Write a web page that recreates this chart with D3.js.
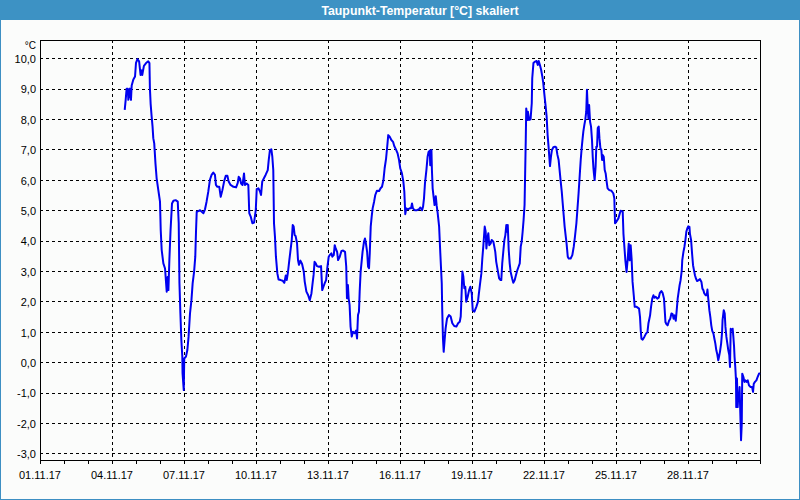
<!DOCTYPE html>
<html><head><meta charset="utf-8">
<script src="https://cdn.jsdelivr.net/npm/d3@7"></script>
<style>html,body{margin:0;padding:0;background:#fff;}svg{display:block;}</style>
</head><body>
<script>
const title = "Taupunkt-Temperatur [°C] skaliert";
const unitLabel = "°C";
const startDate = new Date(2017, 10, 1);
const endDate = new Date(2017, 11, 1);
// day offsets (days since 01.11.17 00:00)
const dayOffsets = [
3.53,3.57,3.61,3.66,3.68,3.75,3.79,3.82,3.89,3.96,4.0,4.06,4.13,4.19,4.24,4.26,4.33,4.42,4.51,4.56,4.58,4.61,4.65,4.69,4.72,4.76,4.81,4.86,4.93,5.0,
5.03,5.07,5.14,5.21,5.28,5.32,5.35,5.39,5.44,5.5,5.56,5.65,5.74,5.78,5.81,5.85,5.89,5.93,5.94,5.99,6.01,6.08,6.14,6.19,6.25,6.31,6.36,6.42,6.47,6.5,
6.53,6.6,6.67,6.74,6.81,6.875,6.94,7.01,7.08,7.15,7.22,7.29,7.33,7.39,7.47,7.53,7.6,7.67,7.74,7.81,7.86,7.94,8.06,8.17,8.24,8.28,8.33,8.38,8.44,8.5,
8.54,8.61,8.68,8.72,8.78,8.85,8.92,8.99,9.03,9.1,9.17,9.21,9.26,9.33,9.4,9.49,9.53,9.58,9.64,9.68,9.72,9.75,9.79,9.83,9.89,9.94,10.03,10.11,10.18,10.24,
10.28,10.33,10.38,10.43,10.49,10.53,10.57,10.61,10.65,10.71,10.75,10.79,10.85,10.92,10.99,11.03,11.1,11.17,11.24,11.31,11.35,11.4,11.44,11.49,11.54,11.62,11.71,11.76,11.81,11.86,
11.92,11.97,12.03,12.07,12.14,12.18,12.24,12.28,12.32,12.38,12.42,12.49,12.56,12.63,12.71,12.76,12.79,12.83,12.86,12.9,12.94,12.99,13.04,13.11,13.17,13.21,13.25,13.29,13.32,13.36,
13.4,13.44,13.5,13.54,13.58,13.63,13.67,13.71,13.74,13.78,13.82,13.86,13.92,13.97,14.04,14.13,14.19,14.25,14.31,14.36,14.42,14.46,14.51,14.57,14.64,14.71,14.76,14.83,14.9,14.96,
15.01,15.08,15.14,15.18,15.22,15.26,15.33,15.4,15.46,15.5,15.54,15.61,15.71,15.79,15.85,15.92,15.96,16.0,16.04,16.1,16.15,16.19,16.24,16.26,16.31,16.33,16.36,16.4,16.44,16.49,
16.53,16.57,16.63,16.68,16.74,16.76,16.79,16.82,16.86,16.9,16.96,17.04,17.11,17.18,17.26,17.35,17.42,17.49,17.53,17.56,17.6,17.64,17.68,17.72,17.76,17.82,17.88,17.93,17.99,18.03,
18.1,18.18,18.25,18.28,18.33,18.39,18.43,18.47,18.5,18.53,18.57,18.6,18.64,18.68,18.72,18.78,18.82,18.89,18.93,18.97,19.01,19.07,19.13,19.19,19.22,19.26,19.31,19.35,19.39,19.43,
19.46,19.49,19.53,19.57,19.61,19.67,19.72,19.78,19.83,19.89,19.94,19.99,20.03,20.07,20.11,20.15,20.19,20.24,20.26,20.31,20.33,20.38,20.44,20.49,20.51,20.56,20.63,20.69,20.74,20.78,
20.83,20.88,20.93,20.97,21.01,21.07,21.11,21.15,21.19,21.22,21.25,21.29,21.33,21.39,21.46,21.51,21.56,21.61,21.65,21.69,21.74,21.78,21.82,21.86,21.9,21.94,21.99,22.03,22.11,22.18,
22.24,22.29,22.35,22.39,22.44,22.49,22.53,22.57,22.61,22.64,22.68,22.72,22.76,22.79,22.82,22.85,22.88,22.92,22.96,23.0,23.03,23.06,23.08,23.11,23.15,23.18,23.21,23.24,23.28,23.31,
23.35,23.39,23.42,23.44,23.49,23.53,23.57,23.61,23.65,23.72,23.81,23.89,23.93,23.96,24.0,24.1,24.19,24.28,24.31,24.35,24.39,24.44,24.49,24.53,24.57,24.61,24.65,24.69,24.74,24.78,
24.86,24.96,25.0,25.03,25.06,25.11,25.18,25.25,25.31,25.35,25.42,25.46,25.51,25.56,25.6,25.65,25.72,25.78,25.83,25.89,25.94,26.0,26.03,26.06,26.1,26.15,26.21,26.26,26.31,26.36,
26.4,26.44,26.49,26.53,26.57,26.61,26.65,26.69,26.74,26.76,26.81,26.85,26.89,26.93,26.97,27.01,27.06,27.08,27.13,27.17,27.21,27.25,27.29,27.33,27.38,27.43,27.5,27.56,27.6,27.64,
27.68,27.74,27.78,27.81,27.85,27.89,27.93,27.97,28.01,28.06,28.1,28.14,28.18,28.22,28.26,28.29,28.33,28.38,28.42,28.44,28.49,28.53,28.56,28.6,28.64,28.68,28.72,28.75,28.78,28.82,
28.86,28.89,28.92,28.94,28.97,29.0,29.01,29.04,29.07,29.1,29.12,29.15,29.18,29.21,29.24,29.26,29.31,29.35,29.39,29.44,29.49,29.54,29.61,29.67,29.71,29.74,29.79,29.85,29.9,29.96,
30.0
];
// dew point values in °C
const dewPoints = [
8.3,8.63,9.0,9.0,8.63,9.0,8.63,9.1,9.3,9.4,9.85,9.97,9.9,9.45,9.6,9.45,9.75,9.84,9.9,9.84,9.0,8.5,8.1,7.75,7.37,7.2,6.55,6.05,5.66,5.28,
4.35,3.69,3.25,3.08,2.32,2.8,2.37,3.36,4.35,5.22,5.31,5.33,5.28,4.57,2.6,1.6,0.72,0.18,-0.37,-0.92,0.12,0.18,0.4,0.83,1.6,2.04,2.59,2.97,3.47,4.29,
4.95,4.97,5.0,4.95,4.9,5.03,5.28,5.6,6.0,6.16,6.24,6.16,5.83,5.77,5.77,5.44,5.66,5.94,6.13,6.13,5.94,5.83,5.77,5.75,5.9,6.1,6.05,5.88,5.83,6.21,
5.83,5.88,5.83,4.9,4.79,4.57,4.59,5.0,5.69,5.72,5.61,5.5,5.94,6.05,6.16,6.32,6.65,6.98,7.0,6.76,6.32,4.57,4.13,3.47,2.92,2.72,2.7,2.68,2.61,2.85,
2.7,2.95,3.3,3.63,4.02,4.51,4.46,4.18,4.15,3.91,3.36,3.2,3.34,3.23,2.98,2.65,2.32,2.21,2.04,2.26,2.54,2.87,3.3,3.25,3.16,3.14,3.16,2.37,2.48,2.59,
2.7,3.09,3.47,3.52,3.58,3.47,3.52,3.85,3.74,3.63,3.36,3.47,3.66,3.67,3.63,3.14,2.1,2.54,2.1,1.88,1.17,0.84,1.0,0.95,1.04,0.78,1.55,1.66,2.32,2.98,
3.3,3.63,3.96,4.07,3.91,3.63,3.14,3.09,3.58,4.46,4.79,5.06,5.28,5.5,5.64,5.63,5.72,5.77,5.99,6.38,6.7,7.03,7.47,7.42,7.31,7.25,7.11,7.0,6.87,6.65,
6.38,6.21,5.94,5.61,4.87,5.06,5.03,5.06,5.06,5.22,5.06,5.0,5.0,5.03,5.09,5.0,5.11,5.39,5.88,6.32,6.76,6.92,6.96,6.48,6.98,6.32,5.72,5.44,5.17,5.46,
5.14,4.9,4.46,3.58,2.59,1.71,0.78,0.34,0.73,1.11,1.44,1.55,1.5,1.28,1.19,1.17,1.28,1.33,1.5,2.1,2.98,2.81,2.43,2.48,1.99,2.15,2.37,2.48,2.26,1.71,
1.66,1.82,1.99,2.21,2.54,2.92,3.41,3.8,4.13,4.46,4.29,3.74,4.07,4.24,3.85,3.91,4.02,3.96,3.8,3.63,3.3,3.03,2.76,2.7,2.7,3.25,3.69,4.02,4.18,4.51,
4.29,4.51,3.69,3.25,2.97,2.76,2.61,2.7,2.86,3.03,3.14,3.25,3.8,3.96,4.29,4.68,5.17,7.31,8.35,7.97,8.24,7.97,7.99,8.52,9.34,9.84,9.89,9.91,9.78,9.91,
9.78,9.62,9.4,9.18,8.85,8.41,8.08,7.48,7.09,6.76,6.45,6.76,6.98,7.07,7.09,7.07,6.82,6.65,6.32,5.99,5.61,5.22,4.84,4.46,4.18,3.91,3.47,3.41,3.41,3.52,
3.8,4.13,4.57,5.0,5.55,6.16,6.65,7.04,7.37,7.59,7.8,7.97,8.24,8.96,8.41,8.02,8.46,7.91,7.75,7.31,6.76,6.38,6.21,5.99,6.43,7.09,7.09,7.7,7.75,7.37,
7.04,6.98,6.65,6.82,6.76,6.32,6.21,5.94,5.72,5.66,5.64,5.55,5.39,4.57,4.6,4.73,4.98,4.95,4.23,3.79,3.35,2.97,3.41,3.9,3.35,3.85,3.41,2.64,2.2,1.82,
1.82,1.76,1.49,1.05,0.77,0.74,0.83,0.94,0.99,1.27,1.54,1.82,2.09,2.2,2.12,2.15,2.09,2.12,2.28,2.34,2.28,2.09,1.71,1.32,1.25,1.21,1.36,1.43,1.6,1.58,
1.43,1.54,1.36,1.71,2.09,2.31,2.53,2.69,3.02,3.35,3.63,3.79,4.01,4.29,4.4,4.47,4.45,4.23,4.01,3.57,3.19,3.02,2.86,2.75,2.67,2.69,2.73,2.64,2.42,2.37,
2.26,2.2,2.2,2.39,2.04,1.71,1.49,1.21,1.03,0.94,0.77,0.61,0.39,0.26,0.06,0.17,0.33,0.61,0.99,1.38,1.71,1.6,1.16,0.83,0.61,0.39,0.23,-0.16,1.1,1.05,
1.1,0.83,0.5,0.17,-0.16,-0.6,-1.48,-0.54,-1.48,-1.04,-1.26,-0.82,-1.7,-2.57,-2.03,-0.38,-0.49,-0.65,-0.6,-0.65,-0.6,-0.76,-0.82,-0.82,-0.98,-0.71,-0.65,-0.6,-0.49,-0.38,
-0.36
];
const yTickValues = [10,9,8,7,6,5,4,3,2,1,0,-1,-2,-3];
const yTickLabels = ["10,0","9,0","8,0","7,0","6,0","5,0","4,0","3,0","2,0","1,0","0,0","-1,0","-2,0","-3,0"];
const xLabelDays = [0,3,6,9,12,15,18,21,24,27];
const xTickLabels = ["01.11.17","04.11.17","07.11.17","10.11.17","13.11.17","16.11.17","19.11.17","22.11.17","25.11.17","28.11.17"];

const W = 800, H = 500;
const L = 40, R = 760, T = 40, B = 460;
const dayMs = 864e5;
const toDate = d => new Date(startDate.getTime() + d * dayMs);

const svg = d3.select("body").append("svg").attr("width", W).attr("height", H);
svg.append("rect").attr("x",0).attr("y",0).attr("width",W).attr("height",H).attr("fill","#fbfcfb");
svg.append("rect").attr("x",0.5).attr("y",0.5).attr("width",W-1).attr("height",H-1)
  .attr("fill","none").attr("stroke","#3d8fc3").attr("stroke-width",1);
svg.append("rect").attr("x",0).attr("y",0).attr("width",W).attr("height",20).attr("fill","#3d92c4");
svg.append("text").attr("x",420).attr("y",14.5).attr("text-anchor","middle")
  .attr("font-family","'Liberation Sans', Arial, sans-serif").attr("font-weight","bold")
  .attr("font-size",12.3).attr("fill","#ffffff").text(title);

const x = d3.scaleTime().domain([startDate, endDate]).range([L, R]);
const y = d3.scaleLinear().domain([-3.22, 10.6]).range([B, T]);

const font = "'Liberation Sans', Arial, sans-serif";
const g = svg.append("g");

// horizontal grid
g.selectAll("line.hg").data(yTickValues).join("line").attr("class","hg")
  .attr("x1",L).attr("x2",R)
  .attr("y1",d=>Math.round(y(d))+0.5).attr("y2",d=>Math.round(y(d))+0.5)
  .attr("stroke","#000").attr("stroke-width",1).attr("stroke-dasharray","3,3")
  .attr("shape-rendering","crispEdges");
// vertical grid
g.selectAll("line.vg").data(xLabelDays.slice(1)).join("line").attr("class","vg")
  .attr("x1",d=>Math.round(x(toDate(d)))+0.5).attr("x2",d=>Math.round(x(toDate(d)))+0.5)
  .attr("y1",T).attr("y2",B)
  .attr("stroke","#000").attr("stroke-width",1).attr("stroke-dasharray","3,3")
  .attr("shape-rendering","crispEdges");

// x axis ticks (daily)
const xAxis = d3.axisBottom(x).ticks(d3.timeDay.every(1)).tickSize(3).tickFormat("").tickSizeOuter(0);
const ax = svg.append("g").attr("transform",`translate(0,${B+0.5})`).call(xAxis);
ax.select(".domain").remove();
ax.selectAll("line").attr("stroke","#000").attr("shape-rendering","crispEdges");

// x labels
svg.selectAll("text.xl").data(xLabelDays).join("text").attr("class","xl")
  .attr("x",(d)=>x(toDate(d))).attr("y",479).attr("text-anchor","middle")
  .attr("font-family",font).attr("font-size",11).attr("fill","#000")
  .text((d,i)=>xTickLabels[i]);
// y labels
svg.selectAll("text.yl").data(yTickValues).join("text").attr("class","yl")
  .attr("x",36).attr("y",d=>y(d)+4.8).attr("text-anchor","end")
  .attr("font-family",font).attr("font-size",11).attr("fill","#000")
  .text((d,i)=>yTickLabels[i]);
svg.append("text").attr("x",36).attr("y",49).attr("text-anchor","end")
  .attr("font-family",font).attr("font-size",10).attr("fill","#000").text(unitLabel);

// frame
svg.append("rect").attr("x",L+0.5).attr("y",T+0.5).attr("width",R-L).attr("height",B-T)
  .attr("fill","none").attr("stroke","#000").attr("stroke-width",1).attr("shape-rendering","crispEdges");

// clip + line
svg.append("clipPath").attr("id","clip").append("rect").attr("x",L).attr("y",T).attr("width",R-L+1).attr("height",B-T);
const data = dayOffsets.map((d,i)=>({t:toDate(d), v:dewPoints[i]}));
const line = d3.line().x(d=>x(d.t)).y(d=>y(d.v));
svg.append("path").datum(data).attr("clip-path","url(#clip)")
  .attr("d",line).attr("fill","none").attr("stroke","#0000f0").attr("stroke-width",2)
  .attr("stroke-linejoin","round");
</script>
</body></html>
